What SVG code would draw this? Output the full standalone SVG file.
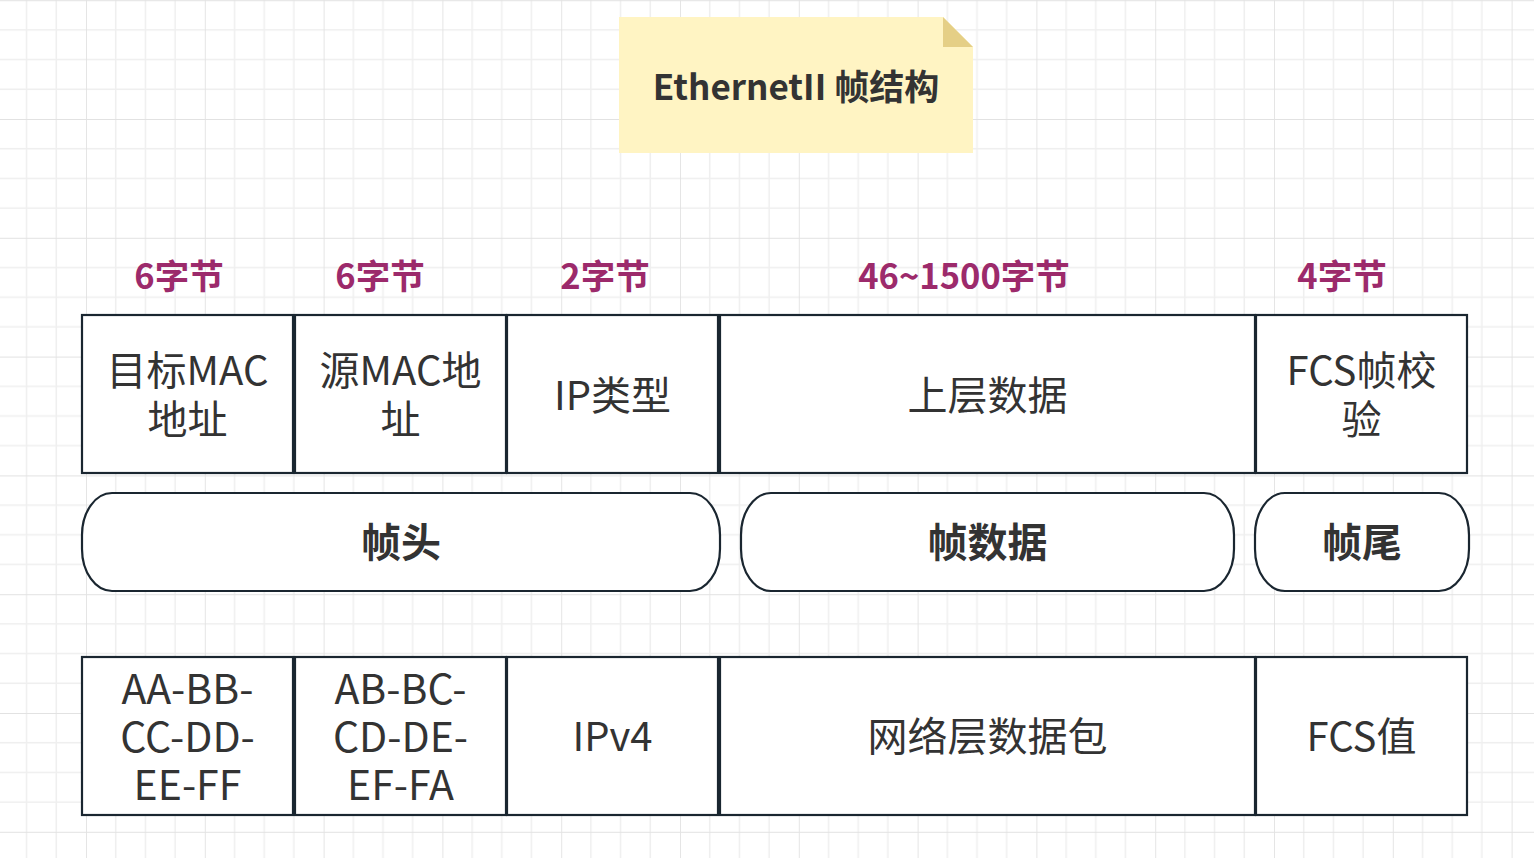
<svg xmlns="http://www.w3.org/2000/svg" width="1534" height="858" viewBox="0 0 1534 858">
<defs>
<pattern id="grid" x="86" y="0.2" width="118.8" height="118.8" patternUnits="userSpaceOnUse">
<path d="M29.7 0V118.8M59.4 0V118.8M89.1 0V118.8M0 29.7H118.8M0 59.4H118.8M0 89.1H118.8" stroke="#efefef" stroke-width="1.5" fill="none"/>
<path d="M0 0V118.8M0 0H118.8" stroke="#e2e2e2" stroke-width="1.8" fill="none"/>
</pattern>
</defs>
<style>
.box{fill:#fff;stroke:#1a2630;stroke-width:2.2}
.t{font-family:"Noto Sans CJK SC","Noto Sans",sans-serif;fill:#333;text-anchor:middle;dominant-baseline:central;font-size:40px}
.b{font-weight:bold}
.lbl{font-family:"Noto Sans CJK SC","Noto Sans",sans-serif;fill:#9c2a6b;font-weight:bold;font-size:34.5px;text-anchor:middle;dominant-baseline:central}
</style>
<rect width="1534" height="858" fill="#fff"/>
<rect width="1534" height="858" fill="url(#grid)"/>
<g id="title">
<path d="M619 17H943L973 47V153H619Z" fill="#fff4c3"/>
<path d="M943 17V47H973Z" fill="#e5cf86"/>
<text class="t b" x="796" y="84" style="font-size:35px">EthernetII 帧结构</text>
</g>
<g id="labels">
<text class="lbl" x="179" y="274">6字节</text>
<text class="lbl" x="380" y="274">6字节</text>
<text class="lbl" x="605" y="274">2字节</text>
<text class="lbl" x="964" y="274">46~1500字节</text>
<text class="lbl" x="1342" y="274">4字节</text>
</g>
<g id="dst-mac"><rect class="box" x="82" y="315" width="211" height="158"/><text class="t" x="187.5" y="368">目标MAC</text><text class="t" x="187.5" y="417">地址</text></g>
<g id="src-mac"><rect class="box" x="295" y="315" width="211" height="158"/><text class="t" x="400.5" y="368">源MAC地</text><text class="t" x="400.5" y="417">址</text></g>
<g id="type"><rect class="box" x="507" y="315" width="211" height="158"/><text class="t" x="612.5" y="393">IP类型</text></g>
<g id="data"><rect class="box" x="720" y="315" width="535" height="158"/><text class="t" x="987.5" y="393">上层数据</text></g>
<g id="fcs"><rect class="box" x="1256" y="315" width="211" height="158"/><text class="t" x="1361.5" y="368">FCS帧校</text><text class="t" x="1361.5" y="417">验</text></g>
<g id="header"><rect class="box" x="82" y="493" width="638" height="98" rx="30" ry="42"/><text class="t b" x="401" y="540">帧头</text></g>
<g id="payload"><rect class="box" x="741" y="493" width="493" height="98" rx="30" ry="42"/><text class="t b" x="987.5" y="540">帧数据</text></g>
<g id="trailer"><rect class="box" x="1255" y="493" width="214" height="98" rx="30" ry="42"/><text class="t b" x="1362" y="540">帧尾</text></g>
<g id="dst-val"><rect class="box" x="82" y="657" width="211" height="158"/><text class="t" x="187.5" y="686" style="font-size:41px">AA-BB-</text><text class="t" x="187.5" y="734" style="font-size:41px">CC-DD-</text><text class="t" x="187.5" y="782" style="font-size:41px">EE-FF</text></g>
<g id="src-val"><rect class="box" x="295" y="657" width="211" height="158"/><text class="t" x="400.5" y="686" style="font-size:41px">AB-BC-</text><text class="t" x="400.5" y="734" style="font-size:41px">CD-DE-</text><text class="t" x="400.5" y="782" style="font-size:41px">EF-FA</text></g>
<g id="type-val"><rect class="box" x="507" y="657" width="211" height="158"/><text class="t" x="612.5" y="734">IPv4</text></g>
<g id="data-val"><rect class="box" x="720" y="657" width="535" height="158"/><text class="t" x="987.5" y="734">网络层数据包</text></g>
<g id="fcs-val"><rect class="box" x="1256" y="657" width="211" height="158"/><text class="t" x="1361.5" y="734">FCS值</text></g>
<g id="connectors"/>
</svg>
